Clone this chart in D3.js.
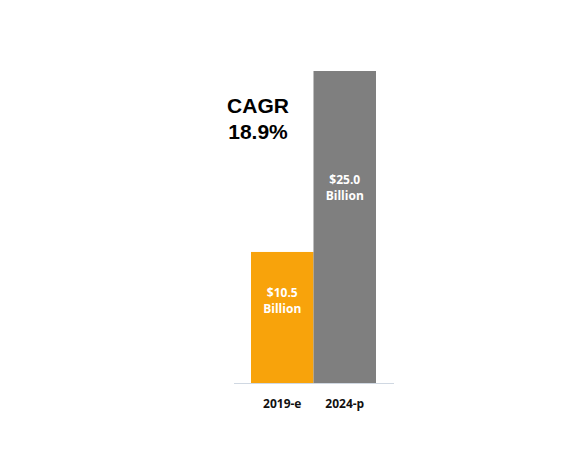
<!DOCTYPE html>
<html>
<head>
<meta charset="utf-8">
<script src="https://cdn.jsdelivr.net/npm/d3@7"></script>
<style>
  body { margin: 0; background: #fff; }
  svg { display: block; }
</style>
</head>
<body>
<svg width="580" height="457"></svg>
<script>
const categories = ["2019-e", "2024-p"];
const values = [10.5, 25.0];
const valueLabels = ["$10.5", "$25.0"];
const colors = ["#F8A30B", "#7F7F7F"];
const cagrLines = ["CAGR", "18.9%"];

const svg = d3.select("svg");

const x = d3.scaleBand()
  .domain(categories)
  .range([251, 376])
  .padding(0);

const y = d3.scaleLinear()
  .domain([0, 25])
  .range([383, 71]);

// baseline
svg.append("line")
  .attr("x1", 234)
  .attr("x2", 394)
  .attr("y1", y(0) + 0.5)
  .attr("y2", y(0) + 0.5)
  .attr("stroke", "#D0D8E2")
  .attr("stroke-width", 1);

svg.selectAll(".bar")
  .data(values)
  .enter().append("rect")
  .attr("class", "bar")
  .attr("x", (d, i) => x(categories[i]))
  .attr("y", d => y(d))
  .attr("width", x.bandwidth())
  .attr("height", d => y(0) - y(d))
  .style("fill", (d, i) => colors[i]);

// value labels inside bars, a bit above the middle
const lab = svg.selectAll(".vlabel")
  .data(values)
  .enter().append("text")
  .attr("class", "vlabel")
  .attr("text-anchor", "middle")
  .style("font-family", "'Open Sans', sans-serif")
  .style("font-weight", "bold")
  .style("font-size", "12px")
  .style("fill", "#fff");

lab.append("tspan")
  .attr("x", (d, i) => x(categories[i]) + x.bandwidth() / 2)
  .attr("y", d => y(d * 0.625) - 4)
  .text((d, i) => valueLabels[i]);

lab.append("tspan")
  .attr("x", (d, i) => x(categories[i]) + x.bandwidth() / 2)
  .attr("y", d => y(d * 0.625) + 12)
  .text("Billion");

// category axis labels
svg.selectAll(".xlabel")
  .data(categories)
  .enter().append("text")
  .attr("class", "xlabel")
  .attr("x", d => x(d) + x.bandwidth() / 2)
  .attr("y", 408)
  .attr("text-anchor", "middle")
  .style("font-family", "'Open Sans', sans-serif")
  .style("font-weight", "bold")
  .style("font-size", "12px")
  .style("fill", "#111")
  .text(d => d);

// CAGR annotation
svg.selectAll(".cagr")
  .data(cagrLines)
  .enter().append("text")
  .attr("class", "cagr")
  .attr("x", 258)
  .attr("y", (d, i) => 113 + i * 26)
  .attr("text-anchor", "middle")
  .style("font-family", "'Liberation Sans', Arial, sans-serif")
  .style("font-weight", "bold")
  .style("font-size", "21px")
  .style("fill", "#000")
  .text(d => d);
</script>
</body>
</html>
